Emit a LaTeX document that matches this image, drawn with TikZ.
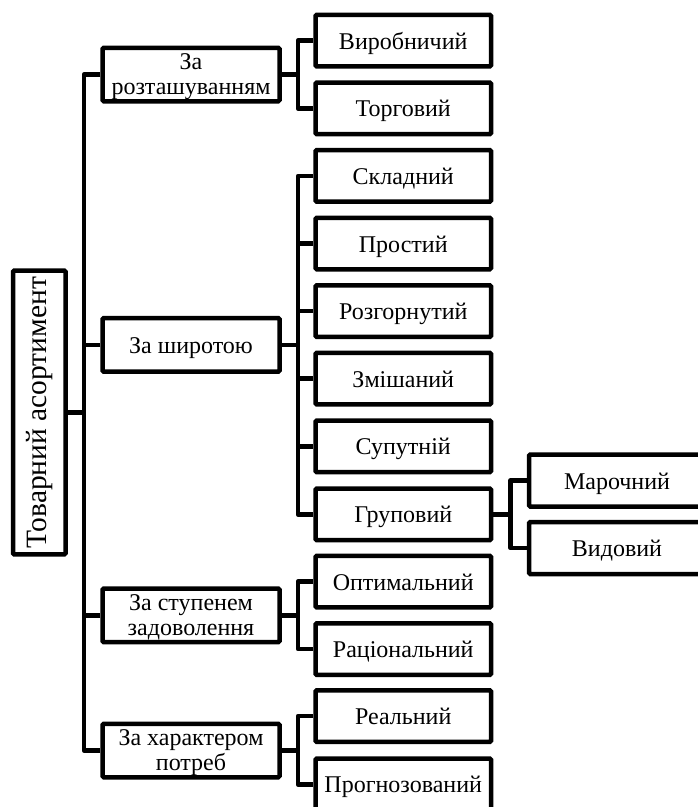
\documentclass[tikz,border=0pt]{standalone}
\usepackage{fontspec}
\usepackage{graphicx}
\setmainfont{Liberation Serif}
\begin{document}
\begin{tikzpicture}[x=1pt,y=-1pt,
  box/.style={draw,line width=4.5pt,rounded corners=1.2pt,inner sep=0pt,align=center,
    font=\fontsize{24}{25}\selectfont},
  lone/.style={box,minimum width=177pt,minimum height=53.5pt,text depth=0pt},
  lonesingle/.style={lone,text height=17pt},
  ltwo/.style={box,minimum width=175.5pt,minimum height=51.5pt,text height=17pt,text depth=0pt},
  lthree/.style={box,minimum width=176pt,minimum height=52pt,text height=17pt,text depth=0pt},
  conn/.style={line width=4.5pt,line join=round}]
\useasboundingbox (0,0) rectangle (698,807);
% root
\node[box,minimum width=52.5pt,minimum height=283.8pt] (root) at (39.25,412.5)
  {\rotatebox{90}{\fontsize{29.5}{30}\selectfont Товарний асортимент}};
% level 1
\node[lone] (a) at (191,74.5) {За\\розташуванням};
\node[lonesingle] (b) at (191,344.9) {За широтою};
\node[lone] (c) at (191,615.3) {За ступенем\\задоволення};
\node[lone] (d) at (191,750.5) {За характером\\потреб};
% level 2
\node[ltwo] (a1) at (403.25,40.7) {Виробничий};
\node[ltwo] (a2) at (403.25,108.3) {Торговий};
\node[ltwo] (b1) at (403.25,175.9) {Складний};
\node[ltwo] (b2) at (403.25,243.5) {Простий};
\node[ltwo] (b3) at (403.25,311.1) {Розгорнутий};
\node[ltwo] (b4) at (403.25,378.7) {Змішаний};
\node[ltwo] (b5) at (403.25,446.3) {Супутній};
\node[ltwo] (b6) at (403.25,514.4) {Груповий};
\node[ltwo] (c1) at (403.25,581.7) {Оптимальний};
\node[ltwo] (c2) at (403.25,649.1) {Раціональний};
\node[ltwo] (d1) at (403.25,716.1) {Реальний};
\node[ltwo] (d2) at (403.25,784.4) {Прогнозований};
% level 3
\node[lthree] (g1) at (617,480.5) {Марочний};
\node[lthree] (g2) at (617,548) {Видовий};
% connectors root -> level 1
\coordinate (t) at (84,412.5);
\draw[conn] (root.east) -- (t);
\draw[conn] (a.west) -| (t);
\draw[conn] (d.west) -| (t);
\draw[conn] (b.west) -- (b.west -| t);
\draw[conn] (c.west) -- (c.west -| t);
% level 1 -> level 2
\coordinate (ja) at (298,74.5);
\draw[conn] (a.east) -- (ja);
\draw[conn] (a1.west) -| (ja);
\draw[conn] (a2.west) -| (ja);
\coordinate (jb) at (298,344.9);
\draw[conn] (b.east) -- (jb);
\draw[conn] (b1.west) -| (jb);
\draw[conn] (b6.west) -| (jb);
\draw[conn] (b2.west) -- (b2.west -| jb);
\draw[conn] (b3.west) -- (b3.west -| jb);
\draw[conn] (b4.west) -- (b4.west -| jb);
\draw[conn] (b5.west) -- (b5.west -| jb);
\coordinate (jc) at (298,615.3);
\draw[conn] (c.east) -- (jc);
\draw[conn] (c1.west) -| (jc);
\draw[conn] (c2.west) -| (jc);
\coordinate (jd) at (298,750.5);
\draw[conn] (d.east) -- (jd);
\draw[conn] (d1.west) -| (jd);
\draw[conn] (d2.west) -| (jd);
% level 2 -> level 3
\coordinate (jg) at (510.5,514.4);
\draw[conn] (b6.east) -- (jg);
\draw[conn] (g1.west) -| (jg);
\draw[conn] (g2.west) -| (jg);
\end{tikzpicture}
\end{document}
